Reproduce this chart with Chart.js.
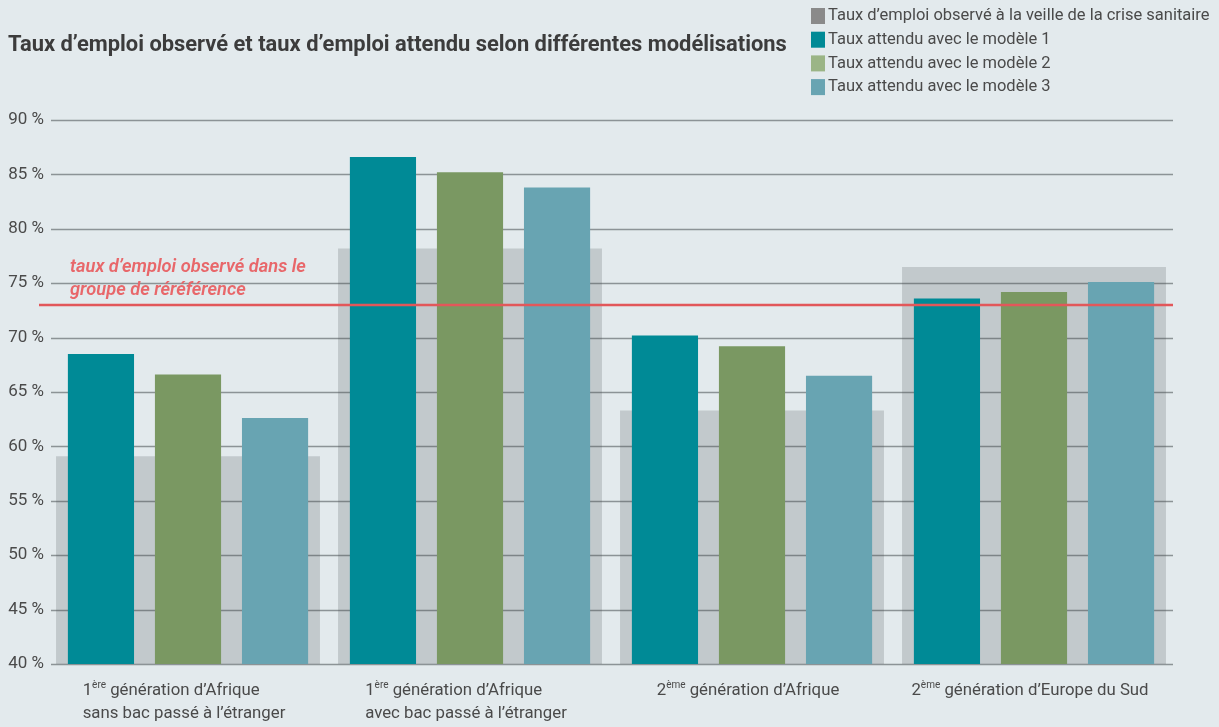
<!DOCTYPE html>
<html>
<head>
<meta charset="utf-8">
<script src="https://cdn.jsdelivr.net/npm/chart.js@4"></script>
<style>
  html, body { margin: 0; padding: 0; background: #e3eaed; }
  #wrap { width: 1219px; height: 727px; }
</style>
</head>
<body>
<div id="wrap"><canvas id="emploi"></canvas></div>
<script>
// data
const categories = [
  ['1^ère^ génération d’Afrique', 'sans bac passé à l’étranger'],
  ['1^ère^ génération d’Afrique', 'avec bac passé à l’étranger'],
  ['2^ème^ génération d’Afrique'],
  ['2^ème^ génération d’Europe du Sud']
];
const observed = [59.1, 78.2, 63.3, 76.5];
const model1 = [68.5, 86.6, 70.2, 73.6];
const model2 = [66.6, 85.2, 69.2, 74.2];
const model3 = [62.6, 83.8, 66.5, 75.1];
const referenceRate = 73.0;
const seriesLabels = [
  'Taux d’emploi observé à la veille de la crise sanitaire',
  'Taux attendu avec le modèle 1',
  'Taux attendu avec le modèle 2',
  'Taux attendu avec le modèle 3'
];
const legendColors = ['#8a8a8a', '#008a96', '#9bb586', '#68a4b2'];
const titleText = 'Taux d’emploi observé et taux d’emploi attendu selon différentes modélisations';
const refLabel = ['taux d’emploi observé dans le', 'groupe de réréférence'];

const FONT = 'Roboto, "Noto Sans", sans-serif';

// draw text with ^sup^ parts
function drawRich(ctx, str, x, y, size) {
  const parts = str.split('^');
  for (let i = 0; i < parts.length; i++) {
    const sup = i % 2 == 1;
    ctx.font = (sup ? Math.round(size * 0.62) : size) + 'px ' + FONT;
    ctx.fillText(parts[i], x, sup ? y - size * 0.35 : y);
    x += ctx.measureText(parts[i]).width;
  }
}
function richWidth(ctx, str, size) {
  const parts = str.split('^');
  let w = 0;
  for (let i = 0; i < parts.length; i++) {
    ctx.font = (i % 2 == 1 ? Math.round(size * 0.62) : size) + 'px ' + FONT;
    w += ctx.measureText(parts[i]).width;
  }
  return w;
}

const decorPlugin = {
  id: 'decor',
  // grid lines sit over the grey bars but under the coloured ones
  afterDatasetDraw(chart, args) {
    if (args.index !== 0) return;
    const ctx = chart.ctx, y = chart.scales.y, area = chart.chartArea;
    ctx.save();
    ctx.strokeStyle = 'rgba(70,74,78,0.55)';
    ctx.lineWidth = 1.5;
    y.ticks.forEach(t => {
      const py = Math.round(y.getPixelForValue(t.value)) + 0.5;
      ctx.beginPath();
      ctx.moveTo(area.left + 4, py);
      ctx.lineTo(area.right - 2, py);
      ctx.stroke();
    });
    ctx.restore();
  },
  afterDraw(chart) {
    const ctx = chart.ctx, area = chart.chartArea;
    const x = chart.scales.x, y = chart.scales.y;
    ctx.save();
    // reference line
    const ry = y.getPixelForValue(referenceRate);
    ctx.strokeStyle = '#e2575a';
    ctx.lineWidth = 2.5;
    ctx.beginPath();
    ctx.moveTo(area.left - 8, ry);
    ctx.lineTo(area.right - 2, ry);
    ctx.stroke();
    ctx.fillStyle = '#e8676a';
    ctx.font = 'italic 600 18.3px ' + FONT;
    ctx.textBaseline = 'middle';
    ctx.fillText(refLabel[0], 70, ry - 38);
    ctx.fillText(refLabel[1], 70, ry - 15);

    // title
    ctx.fillStyle = '#3c3c3c';
    ctx.font = 'bold 21.9px ' + FONT;
    ctx.fillText(titleText, 8, 46);

    // legend
    ctx.font = '16.5px ' + FONT;
    seriesLabels.forEach((lab, i) => {
      const ly = 16 + i * 23.7;
      ctx.fillStyle = legendColors[i];
      ctx.fillRect(811, ly - 8, 14, 16);
      ctx.fillStyle = '#4a4a4a';
      ctx.fillText(lab, 828, ly);
    });

    // category labels
    ctx.fillStyle = '#4a4a4a';
    categories.forEach((lines, i) => {
      const cx = x.getPixelForValue(i);
      const w = Math.max(...lines.map(l => richWidth(ctx, l, 16.8)));
      lines.forEach((l, j) => drawRich(ctx, l, cx - w / 2 - 4, 691 + j * 23, 16.8));
    });
    ctx.restore();
  }
};

const ctx = document.getElementById('emploi').getContext('2d');
const emploiChart = new Chart(ctx, {
  type: 'bar',
  data: {
    labels: categories,
    datasets: [
      { label: seriesLabels[0], data: observed, backgroundColor: '#c2c9cc', order: 1,
        grouped: false, barPercentage: 1, categoryPercentage: 0.936 },
      { label: seriesLabels[1], data: model1, backgroundColor: '#008a96', order: 0 },
      { label: seriesLabels[2], data: model2, backgroundColor: '#7a9862', order: 0 },
      { label: seriesLabels[3], data: model3, backgroundColor: '#68a4b2', order: 0 }
    ]
  },
  options: {
    responsive: true,
    maintainAspectRatio: false,
    animation: false,
    datasets: { bar: { categoryPercentage: 0.926, barPercentage: 0.76 } },
    layout: { padding: { top: 120, right: 44, left: 0, bottom: 0 } },
    plugins: { legend: { display: false }, tooltip: { enabled: false } },
    scales: {
      x: {
        ticks: { display: false },
        grid: { display: false },
        border: { display: false },
        afterFit: s => { s.height = 63; }
      },
      y: {
        min: 40,
        max: 90,
        ticks: {
          stepSize: 5,
          padding: 3,
          color: '#4a4a4a',
          font: { family: FONT, size: 17 },
          callback: v => v + ' %'
        },
        grid: { display: false, drawTicks: false },
        border: { display: false },
        afterFit: s => { s.width = 47; }
      }
    }
  },
  plugins: [decorPlugin]
});
</script>
</body>
</html>
